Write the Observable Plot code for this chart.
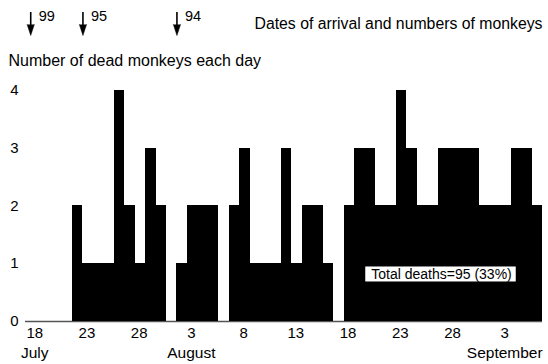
<!DOCTYPE html>
<html><head><meta charset="utf-8">
<script src="https://cdn.jsdelivr.net/npm/d3@7"></script>
<script src="https://cdn.jsdelivr.net/npm/@observablehq/plot@0.6"></script>
<style>html,body{margin:0;padding:0;background:#fff} svg{display:block}</style>
</head><body><div id="chart"></div>
<script>
// Day index 0 = first labelled day ("18" July); one value per day
const deaths = [0,0,0,0,2,1,1,1,4,2,1,3,2,0,1,2,2,2,0,2,3,1,1,1,3,1,2,2,1,0,2,3,3,2,2,4,3,2,2,3,3,3,3,2,2,2,3,3,2];
const tickDays = [0,5,10,15,20,25,30,35,40,45];
const tickLabels = ["18","23","28","3","8","13","18","23","28","3"];
const monthDays = [0,15,45];
const monthLabels = ["July","August","September"];
const arrivalDays = [0,5,14];
const arrivalCounts = [99,95,94];
const yTicks = [0,1,2,3,4];
const yTitle = ["Number of dead monkeys each day"];
const arrivalTitle = ["Dates of arrival and numbers of monkeys"];
const totalNote = ["Total deaths=95 (33%)"];

const days = deaths.map((v, i) => ({day: i, value: v}));
const FRAME_TOP = 89.7, FRAME_BOTTOM = 321, FRAME_LEFT = 25, FRAME_RIGHT = 542;

const chart = Plot.plot({
  width: 548,
  height: 364,
  marginLeft: FRAME_LEFT,
  marginRight: 548 - FRAME_RIGHT,
  marginTop: FRAME_TOP,
  marginBottom: 364 - FRAME_BOTTOM,
  style: {fontFamily: "'Liberation Sans', Arial, sans-serif", fontSize: "15px", color: "black", background: "white"},
  x: {domain: [-0.5, 49], axis: null},
  y: {domain: [0, 4], axis: null},
  marks: [
    Plot.ruleY([0], {stroke: "#555", strokeWidth: 1.5}),
    Plot.rectY(days, {x1: "day", x2: d => d.day + 1, y: "value", fill: "black", shapeRendering: "crispEdges"}),
    Plot.axisY(yTicks, {tickSize: 0, tickPadding: 7, fontSize: 15, label: null, tickFormat: d => String(d)}),
    Plot.text(tickDays, {x: d => d, text: (d, i) => tickLabels[i], frameAnchor: "bottom", dx: 4, dy: 12, lineAnchor: "middle", fontSize: 15}),
    Plot.text(monthDays, {x: d => d, text: (d, i) => monthLabels[i], frameAnchor: "bottom", dx: 4, dy: 32, lineAnchor: "middle", fontSize: 15.5}),
    Plot.ruleX(arrivalDays, {x: d => d, insetTop: -(FRAME_TOP - 12), insetBottom: FRAME_BOTTOM - 27, stroke: "black", strokeWidth: 1.6}),
    Plot.vector(arrivalDays, {x: d => d, frameAnchor: "top", dy: 24 - FRAME_TOP, shape: "spike", anchor: "start", length: 11, r: 3.6, rotate: 180, fill: "black", stroke: "black", strokeWidth: 0.5}),
    Plot.text(arrivalDays, {x: d => d, text: (d, i) => String(arrivalCounts[i]), frameAnchor: "top", textAnchor: "start", dx: 8, dy: 20 - FRAME_TOP, lineAnchor: "bottom", fontSize: 14.5}),
    Plot.text(arrivalTitle, {text: d => d, frameAnchor: "top-left", textAnchor: "start", dx: 254 - FRAME_LEFT, dy: 29 - FRAME_TOP, lineAnchor: "bottom", fontSize: 15.8}),
    Plot.text(yTitle, {text: d => d, frameAnchor: "top-left", textAnchor: "start", dx: 8 - FRAME_LEFT, dy: 65 - FRAME_TOP, lineAnchor: "bottom", fontSize: 16}),
    Plot.text(totalNote, {text: d => d, frameAnchor: "bottom-right", textAnchor: "middle", dx: 441 - FRAME_RIGHT, dy: 274 - FRAME_BOTTOM, lineAnchor: "middle", fontSize: 14, fill: "black"})
  ]
});
document.getElementById("chart").appendChild(chart);

// white box behind the total-deaths note
const noteText = Array.from(chart.querySelectorAll("text")).find(t => t.textContent === totalNote[0]);
if (noteText) {
  const b = noteText.getBBox();
  const rect = document.createElementNS("http://www.w3.org/2000/svg", "rect");
  rect.setAttribute("x", b.x - 6);
  rect.setAttribute("y", b.y + 0.5);
  rect.setAttribute("width", b.width + 10);
  rect.setAttribute("height", b.height - 1);
  rect.setAttribute("fill", "white");
  const t = noteText.getAttribute("transform");
  if (t) rect.setAttribute("transform", t);
  noteText.parentNode.insertBefore(rect, noteText);
}
</script>
</body></html>
